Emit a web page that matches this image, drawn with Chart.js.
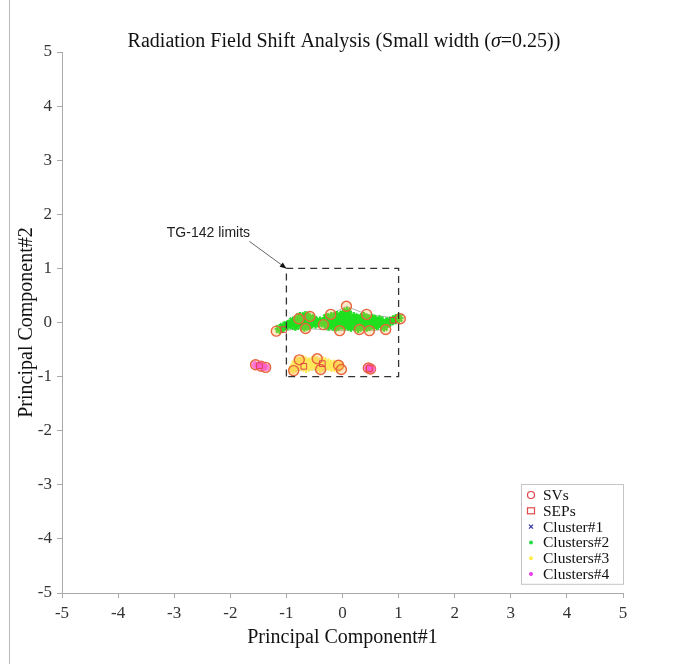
<!DOCTYPE html>
<html>
<head>
<meta charset="utf-8">
<script src="https://cdn.jsdelivr.net/npm/chart.js@4.4.0/dist/chart.umd.min.js"></script>
<style>
  html, body { margin: 0; padding: 0; background: #fff; }
  #wrap { width: 694px; height: 664px; position: relative; }
</style>
</head>
<body>
<div id="wrap"><canvas id="c" width="694" height="664"></canvas></div>
<script>
// ---- data ----
const AXIS_TICKS = [-5, -4, -3, -2, -1, 0, 1, 2, 3, 4, 5];

const svPoints = [
  [-1.18, -0.16], [-0.78, 0.07], [-0.58, 0.11], [-0.66, -0.11], [-0.34, -0.04],
  [-0.21, 0.15], [0.07, 0.30], [-0.05, -0.15], [0.30, -0.13], [0.43, 0.15],
  [0.48, -0.15], [0.77, -0.13], [1.03, 0.07],
  [-0.77, -0.69], [-0.87, -0.89], [-0.45, -0.67], [-0.39, -0.87], [-0.07, -0.79], [-0.02, -0.87],
  [-1.55, -0.78], [-1.45, -0.81], [-1.37, -0.83], [0.46, -0.84], [0.50, -0.86]
];

const sepPoints = [
  [-1.05, -0.13], [0.90, 0.04], [-0.69, -0.81], [-0.36, -0.76], [-1.48, -0.80], [0.48, -0.85]
];

const cluster1 = [];

const cluster2 = [
  [-1.12, -0.12], [-1.05, -0.08], [-0.98, -0.05], [-0.92, -0.02], [-0.88, 0.02], [-0.84, -0.06],
  [-0.80, 0.04], [-0.76, 0.10], [-0.74, -0.02], [-0.70, 0.06], [-0.68, -0.08], [-0.66, 0.12],
  [-0.63, 0.02], [-0.60, -0.04], [-0.58, 0.08], [-0.55, 0.00], [-0.52, 0.05], [-0.48, -0.02],
  [-0.40, 0.02], [-0.32, -0.02], [-0.28, 0.08], [-0.25, -0.06], [-0.20, 0.10], [-0.18, 0.00],
  [-0.15, 0.05], [-0.12, -0.08], [-0.10, 0.12], [-0.08, 0.02], [-0.05, -0.04], [-0.03, 0.08],
  [0.00, 0.00], [0.02, 0.15], [0.04, -0.06], [0.06, 0.05], [0.08, 0.20], [0.10, -0.02],
  [0.12, 0.08], [0.15, -0.08], [0.17, 0.03], [0.20, 0.10], [0.22, -0.04], [0.25, 0.05],
  [0.28, -0.10], [0.30, 0.00], [0.33, 0.08], [0.36, -0.05], [0.38, 0.10], [0.40, 0.02],
  [0.43, -0.08], [0.46, 0.05], [0.50, -0.02], [0.53, 0.07], [0.56, -0.06], [0.60, 0.02],
  [0.63, -0.04], [0.66, 0.04], [0.70, -0.02], [0.74, -0.08], [0.78, 0.00], [0.85, 0.02],
  [0.95, 0.06], [1.00, 0.08]
];

const cluster3 = [
  [-0.88, -0.86], [-0.84, -0.78], [-0.80, -0.72], [-0.75, -0.80], [-0.70, -0.70], [-0.65, -0.84],
  [-0.60, -0.74], [-0.55, -0.80], [-0.50, -0.70], [-0.45, -0.78], [-0.40, -0.84], [-0.35, -0.72],
  [-0.30, -0.80], [-0.25, -0.76], [-0.20, -0.82], [-0.15, -0.78], [-0.10, -0.84], [-0.05, -0.80]
];

const cluster4 = [
  [-1.56, -0.78], [-1.50, -0.80], [-1.46, -0.79], [-1.42, -0.82], [-1.36, -0.83],
  [0.45, -0.84], [0.49, -0.85], [0.52, -0.86]
];

const hullUpper = [
  [-1.18, -0.16], [-0.78, 0.07], [-0.58, 0.11], [-0.34, -0.04], [-0.21, 0.15], [0.07, 0.30],
  [0.43, 0.15], [1.03, 0.07], [0.77, -0.13], [0.48, -0.15], [0.30, -0.13], [-0.05, -0.15],
  [-0.66, -0.11], [-1.18, -0.16]
];
const hullLower = [
  [-0.87, -0.89], [-0.77, -0.69], [-0.45, -0.67], [-0.07, -0.79], [-0.02, -0.87],
  [-0.39, -0.87], [-0.87, -0.89]
];
const hullLeft = [[-1.55, -0.78], [-1.45, -0.81], [-1.37, -0.83], [-1.55, -0.78]];

const tgLimits = [[-1, -1], [-1, 1], [1, 1], [1, -1], [-1, -1]];

const annotText = 'TG-142 limits';
const annotTextAt = [-2.39, 1.66];
const annotArrowFrom = [-1.66, 1.50];
const annotArrowTo = [-1, 1];

const pts = (arr) => arr.map(([x, y]) => ({ x, y }));
const SERIF = "'Liberation Serif', 'Times New Roman', serif";

// ---- plugins ----
const frameLine = {
  id: 'frameLine',
  beforeDraw(chart) {
    const ctx = chart.ctx;
    ctx.save();
    ctx.strokeStyle = '#b8b8b8';
    ctx.lineWidth = 1;
    ctx.beginPath();
    ctx.moveTo(9.5, 0);
    ctx.lineTo(9.5, chart.height);
    ctx.stroke();
    ctx.restore();
  }
};

const titlePlugin = {
  id: 'mixedTitle',
  afterDraw(chart) {
    const ctx = chart.ctx;
    const parts = [
      ['Radiation Field Shift Analysis (Small width (', 'normal'],
      ['\u03c3', 'italic'],
      ['=0.25))', 'normal']
    ];
    ctx.save();
    ctx.fillStyle = '#111';
    ctx.textBaseline = 'middle';
    let total = 0;
    parts.forEach((p) => {
      ctx.font = `${p[1]} 20px ${SERIF}`;
      total += ctx.measureText(p[0]).width;
    });
    let x = 344 - total / 2;
    parts.forEach((p) => {
      ctx.font = `${p[1]} 20px ${SERIF}`;
      ctx.fillText(p[0], x, 42);
      x += ctx.measureText(p[0]).width;
    });
    ctx.restore();
  }
};

const annotPlugin = {
  id: 'annot',
  afterDatasetsDraw(chart) {
    const { ctx, scales: { x, y } } = chart;
    const tx = x.getPixelForValue(annotTextAt[0]);
    const ty = y.getPixelForValue(annotTextAt[1]);
    const x0 = x.getPixelForValue(annotArrowFrom[0]);
    const y0 = y.getPixelForValue(annotArrowFrom[1]);
    const x1 = x.getPixelForValue(annotArrowTo[0]);
    const y1 = y.getPixelForValue(annotArrowTo[1]);
    ctx.save();
    ctx.fillStyle = '#222';
    ctx.font = "14px 'Liberation Sans', Arial, sans-serif";
    ctx.textAlign = 'center';
    ctx.textBaseline = 'middle';
    ctx.fillText(annotText, tx, ty);
    ctx.strokeStyle = '#666';
    ctx.lineWidth = 1;
    ctx.beginPath();
    ctx.moveTo(x0, y0);
    ctx.lineTo(x1, y1);
    ctx.stroke();
    const a = Math.atan2(y1 - y0, x1 - x0);
    ctx.fillStyle = '#111';
    ctx.beginPath();
    ctx.moveTo(x1, y1);
    ctx.lineTo(x1 - 7 * Math.cos(a - 0.4), y1 - 7 * Math.sin(a - 0.4));
    ctx.lineTo(x1 - 7 * Math.cos(a + 0.4), y1 - 7 * Math.sin(a + 0.4));
    ctx.closePath();
    ctx.fill();
    ctx.restore();
  }
};

function drawMarker(ctx, kind, color, cx, cy) {
  ctx.save();
  ctx.strokeStyle = color;
  ctx.fillStyle = color;
  ctx.lineWidth = 1.2;
  ctx.beginPath();
  if (kind === 'circle') {
    ctx.arc(cx, cy, 3.5, 0, Math.PI * 2);
    ctx.stroke();
  } else if (kind === 'rect') {
    ctx.strokeRect(cx - 3.5, cy - 3, 7, 6);
  } else if (kind === 'cross') {
    ctx.moveTo(cx - 2, cy - 2); ctx.lineTo(cx + 2, cy + 2);
    ctx.moveTo(cx + 2, cy - 2); ctx.lineTo(cx - 2, cy + 2);
    ctx.stroke();
  } else {
    ctx.arc(cx, cy, 2, 0, Math.PI * 2);
    ctx.fill();
  }
  ctx.restore();
}

const legendPlugin = {
  id: 'boxLegend',
  afterDraw(chart) {
    const ctx = chart.ctx;
    const items = chart.data.datasets.filter((d) => d.legendKind);
    const left = 521, top = 484, w = 102, rowH = 15.8;
    const h = items.length * rowH + 5;
    ctx.save();
    ctx.fillStyle = '#fff';
    ctx.fillRect(left, top, w, h);
    ctx.strokeStyle = '#c4c4c4';
    ctx.lineWidth = 1;
    ctx.strokeRect(left + 0.5, top + 0.5, w, h);
    ctx.font = `15.5px ${SERIF}`;
    ctx.textBaseline = 'middle';
    items.forEach((d, i) => {
      const cy = top + 11 + i * rowH;
      drawMarker(ctx, d.legendKind, d.legendColor, left + 10, cy);
      ctx.fillStyle = '#111';
      ctx.fillText(d.label, left + 22, cy + 1);
    });
    ctx.restore();
  }
};

// ---- chart ----
const hullStyle = {
  showLine: true, pointRadius: 0, borderColor: 'rgba(150,150,150,0.8)', borderWidth: 1, fill: false, order: 9
};

new Chart(document.getElementById('c'), {
  type: 'scatter',
  data: {
    datasets: [
      { label: 'SVs', data: pts(svPoints), pointStyle: 'circle', pointRadius: 5,
        borderColor: '#e8643c', backgroundColor: 'rgba(245,180,80,0.3)', pointBorderWidth: 1.4,
        order: 2, legendKind: 'circle', legendColor: '#e0404a' },
      { label: 'SEPs', data: pts(sepPoints), pointStyle: 'rect', pointRadius: 4,
        borderColor: '#e04848', backgroundColor: 'rgba(0,0,0,0)', pointBorderWidth: 1,
        order: 1, legendKind: 'rect', legendColor: '#e04848' },
      { label: 'Cluster#1', data: pts(cluster1), pointStyle: 'crossRot', pointRadius: 3,
        borderColor: '#3030a0', backgroundColor: '#3030a0',
        order: 5, legendKind: 'cross', legendColor: '#3030a0' },
      { label: 'Clusters#2', data: pts(cluster2), pointStyle: 'star', pointRadius: 5,
        borderColor: '#1fe01f', backgroundColor: '#1fe01f', pointBorderWidth: 2.4,
        order: 6, legendKind: 'dot', legendColor: '#22dd44' },
      { label: 'Clusters#3', data: pts(cluster3), pointStyle: 'star', pointRadius: 5,
        borderColor: '#ffe85a', backgroundColor: '#ffe85a', pointBorderWidth: 2.4,
        order: 7, legendKind: 'dot', legendColor: '#ffee44' },
      { label: 'Clusters#4', data: pts(cluster4), pointStyle: 'star', pointRadius: 4,
        borderColor: 'rgba(255,90,210,0.75)', backgroundColor: 'rgba(255,90,210,0.75)', pointBorderWidth: 2,
        order: 1.5, legendKind: 'dot', legendColor: '#e83ce8' },
      { label: 'hull1', data: pts(hullUpper), ...hullStyle },
      { label: 'hull2', data: pts(hullLower), ...hullStyle },
      { label: 'hull3', data: pts(hullLeft), ...hullStyle },
      { label: 'TG-142', data: pts(tgLimits), showLine: true, pointRadius: 0,
        borderColor: '#333', borderWidth: 1.3, borderDash: [7, 5], fill: false, order: 0 }
    ]
  },
  options: {
    responsive: false,
    animation: false,
    events: [],
    layout: { padding: { top: 52, right: 71, left: 0, bottom: 0 } },
    plugins: { legend: { display: false }, tooltip: { enabled: false }, title: { display: false } },
    scales: {
      x: {
        type: 'linear', min: -5, max: 5,
        afterBuildTicks: (s) => { s.ticks = AXIS_TICKS.map((v) => ({ value: v })); },
        afterFit: (s) => { s.height = 71; },
        ticks: { font: { family: SERIF, size: 17 }, color: '#333', padding: 5 },
        grid: { drawOnChartArea: false, drawTicks: true, tickLength: 5, color: '#aaa' },
        border: { display: true, color: '#aaa' },
        title: { display: true, text: 'Principal Component#1', font: { family: SERIF, size: 20 },
          color: '#111', padding: { top: 0, bottom: 14 } }
      },
      y: {
        type: 'linear', min: -5, max: 5,
        afterBuildTicks: (s) => { s.ticks = AXIS_TICKS.map((v) => ({ value: v })); },
        afterFit: (s) => { s.width = 62; },
        ticks: { font: { family: SERIF, size: 17 }, color: '#333', padding: 5 },
        grid: { drawOnChartArea: false, drawTicks: true, tickLength: 5, color: '#aaa' },
        border: { display: true, color: '#aaa' },
        title: { display: true, text: 'Principal Component#2', font: { family: SERIF, size: 20 },
          color: '#111', padding: { top: 15, bottom: 0 } }
      }
    }
  },
  plugins: [frameLine, titlePlugin, annotPlugin, legendPlugin]
});
</script>
</body>
</html>
